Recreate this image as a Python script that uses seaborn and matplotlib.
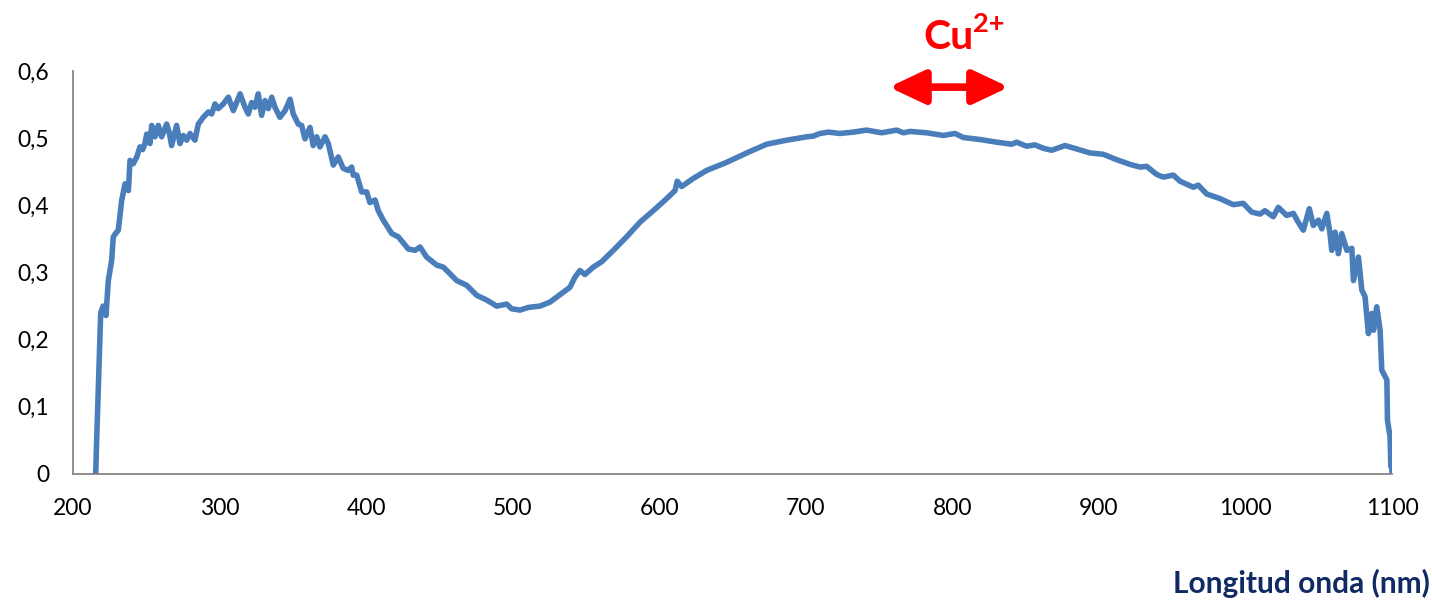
import matplotlib
matplotlib.use("Agg")
import matplotlib.pyplot as plt
import seaborn as sns
import pandas as pd

# ---- data ----
wavelength_nm = [
    215.5, 216.0, 217.3, 218.9, 220.5, 221.8, 222.5, 224.1, 226.4, 227.5, 229.0, 230.9,
    233.2, 235.5, 237.8, 238.9, 241.1, 243.5, 245.7, 247.5, 249.1, 250.3, 252.5, 253.7,
    255.9, 258.2, 260.5, 263.9, 265.5, 267.3, 270.7, 273.0, 275.3, 277.6, 279.8, 283.2,
    285.5, 288.9, 292.3, 294.6, 296.9, 299.1, 302.6, 306.0, 309.4, 314.0, 317.4, 319.6,
    321.9, 324.2, 326.4, 328.7, 331.0, 333.3, 335.6, 337.8, 341.2, 344.7, 348.1, 350.3,
    353.7, 356.0, 358.3, 361.7, 363.9, 366.3, 368.5, 372.0, 374.2, 377.6, 381.0, 384.4,
    387.8, 390.1, 391.2, 393.6, 397.0, 400.4, 402.6, 406.1, 408.3, 411.7, 417.5, 422.0,
    428.8, 433.4, 436.8, 441.3, 448.2, 452.7, 461.8, 468.6, 475.5, 482.3, 489.1, 495.9,
    499.3, 505.0, 510.7, 518.6, 525.5, 532.3, 539.1, 542.5, 545.9, 549.3, 555.0, 560.7,
    568.7, 577.7, 586.9, 595.9, 605.1, 610.8, 612.3, 615.3, 623.2, 632.4, 646.0, 659.7,
    673.3, 686.9, 700.6, 705.0, 709.7, 715.4, 723.3, 732.4, 741.5, 751.8, 762.0, 766.6,
    771.1, 782.5, 793.8, 801.8, 807.5, 818.9, 830.3, 840.5, 843.9, 850.7, 856.4, 862.0,
    867.8, 876.9, 884.8, 893.9, 903.0, 912.1, 921.2, 928.0, 932.6, 939.4, 944.0, 950.8,
    955.3, 964.4, 967.8, 973.5, 982.6, 991.7, 998.5, 1004.2, 1009.9, 1013.3, 1019.0, 1022.4,
    1028.1, 1032.7, 1036.0, 1039.5, 1043.6, 1046.3, 1049.8, 1052.1, 1055.5, 1057.7, 1058.9, 1061.2,
    1063.4, 1065.7, 1069.2, 1072.6, 1073.7, 1077.1, 1079.4, 1081.6, 1083.9, 1086.2, 1087.4, 1089.6,
    1091.9, 1093.0, 1096.5, 1096.9, 1098.7, 1099.2, 1099.6, 1100.0,
]
absorbance = [
    0.000, 0.040, 0.130, 0.240, 0.250, 0.249, 0.236, 0.288, 0.318, 0.353, 0.358, 0.363,
    0.407, 0.432, 0.422, 0.467, 0.462, 0.472, 0.487, 0.483, 0.492, 0.506, 0.492, 0.519,
    0.502, 0.519, 0.502, 0.521, 0.510, 0.489, 0.519, 0.492, 0.504, 0.497, 0.507, 0.497,
    0.521, 0.531, 0.539, 0.536, 0.551, 0.544, 0.551, 0.561, 0.541, 0.566, 0.546, 0.536,
    0.553, 0.546, 0.566, 0.534, 0.556, 0.544, 0.561, 0.546, 0.531, 0.541, 0.558, 0.536,
    0.521, 0.519, 0.499, 0.516, 0.489, 0.502, 0.487, 0.502, 0.492, 0.460, 0.472, 0.455,
    0.452, 0.457, 0.445, 0.445, 0.420, 0.420, 0.404, 0.408, 0.392, 0.378, 0.358, 0.353,
    0.335, 0.333, 0.338, 0.323, 0.311, 0.308, 0.288, 0.281, 0.266, 0.259, 0.250, 0.253,
    0.246, 0.244, 0.248, 0.250, 0.256, 0.267, 0.278, 0.293, 0.303, 0.297, 0.308, 0.316,
    0.333, 0.353, 0.375, 0.392, 0.410, 0.422, 0.436, 0.428, 0.440, 0.452, 0.464, 0.478,
    0.491, 0.497, 0.502, 0.503, 0.507, 0.509, 0.507, 0.509, 0.512, 0.508, 0.512, 0.508,
    0.510, 0.508, 0.504, 0.507, 0.501, 0.498, 0.494, 0.491, 0.494, 0.488, 0.490, 0.485,
    0.482, 0.489, 0.484, 0.478, 0.476, 0.468, 0.461, 0.457, 0.458, 0.446, 0.442, 0.445,
    0.436, 0.427, 0.430, 0.417, 0.410, 0.401, 0.403, 0.390, 0.387, 0.392, 0.383, 0.397,
    0.385, 0.388, 0.375, 0.363, 0.395, 0.370, 0.378, 0.365, 0.388, 0.358, 0.333, 0.360,
    0.328, 0.358, 0.333, 0.336, 0.288, 0.323, 0.274, 0.264, 0.209, 0.239, 0.214, 0.249,
    0.214, 0.155, 0.140, 0.080, 0.055, 0.011, 0.046, 0.000,
]

x_ticks = [200, 300, 400, 500, 600, 700, 800, 900, 1000, 1100]
y_ticks = [0.0, 0.1, 0.2, 0.3, 0.4, 0.5, 0.6]
y_tick_labels = ["0", "0,1", "0,2", "0,3", "0,4", "0,5", "0,6"]
x_label = "Longitud onda (nm)"
band_label = "Cu"
band_charge = "2+"
band_range = [756.8, 838.6]
band_level = 0.576

df = pd.DataFrame({"nm": wavelength_nm, "abs": absorbance})

sns.set_theme(style="white")
plt.rcParams["font.family"] = ["Lato", "DejaVu Sans"]

W, H = 1432, 606
fig = plt.figure(figsize=(W / 100, H / 100), dpi=100)
ax = fig.add_axes([73 / W, 1 - 474 / H, (1392 - 73) / W, (474 - 71) / H])

sns.lineplot(data=df, x="nm", y="abs", ax=ax, color="#4A7EBB", linewidth=4.0,
             estimator=None, sort=False, solid_joinstyle="round", solid_capstyle="round")

ax.set_xlim(200, 1100)
ax.set_ylim(0, 0.6)
ax.set_xticks(x_ticks)
ax.set_yticks(y_ticks)
ax.set_yticklabels(y_tick_labels)
ax.set_xlabel("")
ax.set_ylabel("")

for side in ["top", "right"]:
    ax.spines[side].set_visible(False)
for side in ["left", "bottom"]:
    ax.spines[side].set_color("#868686")
    ax.spines[side].set_linewidth(1.3)
ax.tick_params(axis="both", which="major", direction="out", length=6, width=1.3,
               color="#868686", labelsize=16.5, labelcolor="#000000", pad=11)

# double arrow marking the Cu2+ band
ax.annotate("", xy=(band_range[1], band_level), xytext=(band_range[0], band_level),
            arrowprops=dict(arrowstyle="<|-|>,head_length=1.8,head_width=0.85",
                            color="#FF0000", lw=5.5, shrinkA=0, shrinkB=0),
            annotation_clip=False)

fig.text(923 / W, 1 - 49 / H, band_label, color="#FF0000", fontsize=29.5,
         fontweight="bold", ha="left", va="baseline")
fig.text(973 / W, 1 - 32 / H, band_charge, color="#FF0000", fontsize=19.5,
         fontweight="bold", ha="left", va="baseline")

fig.text(1430 / W, 1 - 583 / H, x_label, color="#102A63", fontsize=21.5,
         fontweight="bold", ha="right", va="center")

fig.savefig("out.png", dpi=100)
